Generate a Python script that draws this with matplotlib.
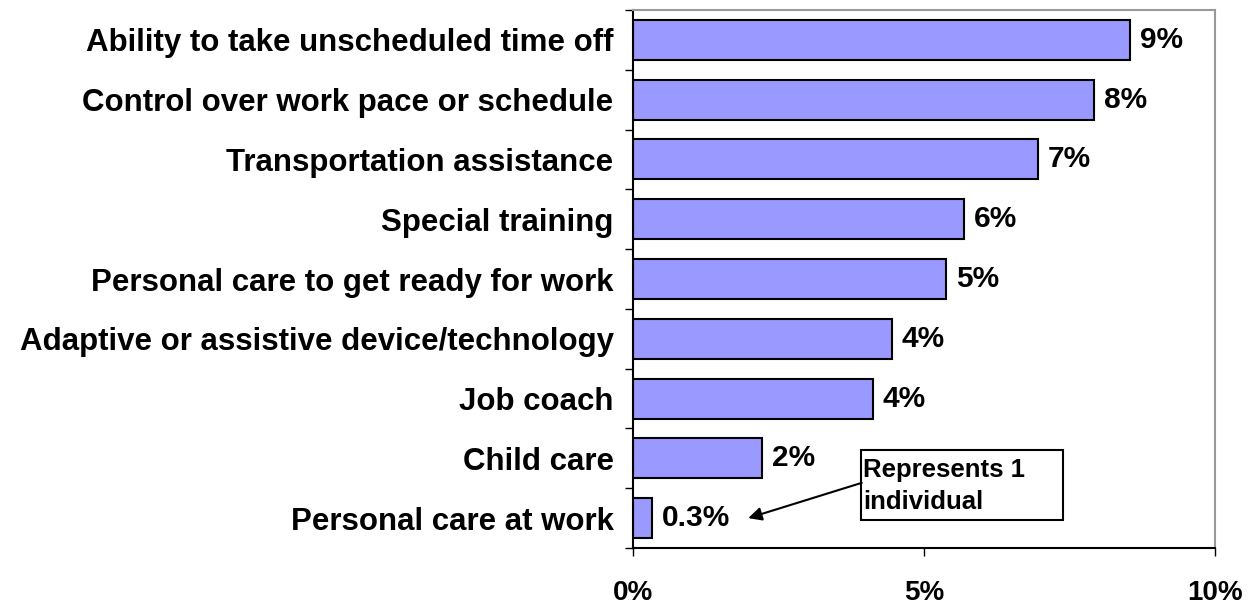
import matplotlib
matplotlib.use("Agg")
import matplotlib.pyplot as plt
from matplotlib.patches import Rectangle
from matplotlib.ticker import FuncFormatter, FixedLocator

categories = [
    "Ability to take unscheduled time off",
    "Control over work pace or schedule",
    "Transportation assistance",
    "Special training",
    "Personal care to get ready for work",
    "Adaptive or assistive device/technology",
    "Job coach",
    "Child care",
    "Personal care at work",
]
values = [8.54, 7.92, 6.96, 5.69, 5.38, 4.45, 4.12, 2.21, 0.32]
value_labels = ["9%", "8%", "7%", "6%", "5%", "4%", "4%", "2%", "0.3%"]
x_ticks = [0, 5, 10]
note_text = "Represents 1\nindividual"

plt.rcParams["font.family"] = ["Liberation Sans", "DejaVu Sans"]
plt.rcParams["font.weight"] = "bold"

fig = plt.figure(figsize=(12.59, 6.06), dpi=100)
ax = fig.add_axes([633 / 1259, 1 - 548 / 606, (1215 - 633) / 1259, (548 - 10) / 606])

n = len(categories)
ypos = list(range(n - 1, -1, -1))
ax.barh(ypos, values, height=0.67, color="#9999ff", edgecolor="black", linewidth=1.5)

for y, v, lab in zip(ypos, values, value_labels):
    ax.text(v + 0.17, y, lab, va="center", ha="left", fontsize=21.5, fontweight="bold")

ax.set_xlim(0, 10)
ax.set_ylim(-0.5, n - 0.5)
ax.set_xticks(x_ticks)
ax.xaxis.set_major_formatter(FuncFormatter(lambda v, p: f"{int(v)}%"))
ax.set_yticks(ypos)
ax.set_yticklabels(categories)
ax.yaxis.set_minor_locator(FixedLocator([i + 0.5 for i in range(-1, n)]))
ax.tick_params(axis="y", which="major", length=0, pad=14, labelsize=22.5)
ax.tick_params(axis="y", which="minor", length=6, width=1, direction="out")
ax.tick_params(axis="x", length=6, width=1, direction="out", pad=17, labelsize=20)
for lab in ax.get_xticklabels() + ax.get_yticklabels():
    lab.set_fontweight("bold")

ax.spines["left"].set_color("black")
ax.spines["bottom"].set_color("black")
ax.spines["top"].set_color("#999999")
ax.spines["right"].set_color("#999999")
for s in ax.spines.values():
    s.set_linewidth(1.5)

# annotation box
ax.add_patch(Rectangle((3.92, -0.03), 3.47, 1.17, facecolor="white", edgecolor="black",
                       linewidth=1.5, zorder=4))
ax.text(3.96, 0.54, note_text, fontsize=18.5, fontweight="bold", ha="left", va="center",
        linespacing=1.4, zorder=5)
ax.annotate(
    "", xy=(1.98, 0.0), xycoords="data", xytext=(3.93, 0.59), textcoords="data",
    arrowprops=dict(arrowstyle="-|>", color="black", lw=1.5, mutation_scale=20,
                    shrinkA=0, shrinkB=0),
    zorder=5,
)

fig.savefig("out.png", dpi=100)
